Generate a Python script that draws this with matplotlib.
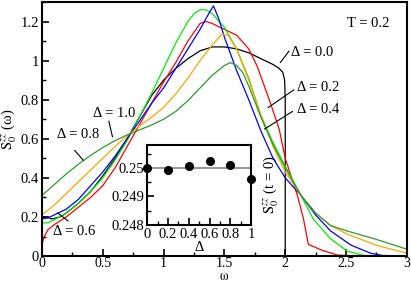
import matplotlib
matplotlib.use("Agg")
import matplotlib.pyplot as plt
from matplotlib.ticker import MultipleLocator, FormatStrFormatter

plt.rcParams['font.family'] = ['Liberation Serif', 'DejaVu Serif']
plt.rcParams['mathtext.fontset'] = 'stix'
plt.rcParams['font.size'] = 10.5

# Spectral function S_0^zz(omega) at T = 0.2 for several anisotropies Delta
w_d00 = [0, 0.04, 0.08, 0.15, 0.2, 0.3, 0.4, 0.5, 0.6, 0.7, 0.8, 0.9, 1.0, 1.1, 1.2, 1.3, 1.4,
         1.5, 1.6, 1.7, 1.8, 1.9, 1.95, 1.98, 1.995, 2.0, 2.0, 3.0]
s_d00 = [0.2, 0.2, 0.19, 0.2, 0.22, 0.27, 0.33, 0.41, 0.5, 0.6, 0.71, 0.82, 0.9, 0.96, 1.01, 1.05, 1.07,
         1.07, 1.06, 1.04, 1.01, 0.98, 0.96, 0.94, 0.9, 0.8, 0.0, 0.0]

w_d02 = [0, 0.02, 0.05, 0.1, 0.2, 0.3, 0.4, 0.5, 0.6, 0.7, 0.8, 0.9, 1.0, 1.1, 1.2, 1.3, 1.35, 1.4,
         1.5, 1.6, 1.7, 1.77, 1.88, 1.95, 2.0, 2.1, 2.15, 2.19, 2.3, 2.43, 2.6, 3.0]
s_d02 = [0.06, 0.1, 0.135, 0.16, 0.2, 0.25, 0.3, 0.36, 0.45, 0.56, 0.67, 0.78, 0.89, 0.99, 1.1, 1.19, 1.2, 1.19,
         1.16, 1.13, 1.06, 0.97, 0.78, 0.65, 0.5, 0.31, 0.19, 0.06, 0.03, 0.005, 0.0, 0.0]

w_d04 = [0, 0.05, 0.1, 0.2, 0.3, 0.4, 0.5, 0.6, 0.7, 0.8, 0.9, 1.0, 1.1, 1.2, 1.25, 1.3, 1.35, 1.4,
         1.5, 1.6, 1.7, 1.8, 1.9, 2.0, 2.13, 2.23, 2.37, 2.51, 2.65, 2.8, 3.0]
s_d04 = [0.17, 0.17, 0.185, 0.22, 0.27, 0.33, 0.4, 0.49, 0.59, 0.71, 0.83, 0.96, 1.09, 1.2, 1.24, 1.26, 1.26, 1.24,
         1.17, 1.06, 0.91, 0.72, 0.58, 0.46, 0.31, 0.19, 0.09, 0.025, 0.003, 0.0, 0.0]

w_d06 = [0, 0.05, 0.1, 0.2, 0.3, 0.4, 0.5, 0.6, 0.7, 0.8, 0.9, 1.0, 1.1, 1.2, 1.3, 1.38, 1.41, 1.45,
         1.5, 1.6, 1.7, 1.8, 1.9, 2.0, 2.13, 2.25, 2.37, 2.54, 2.7, 2.8, 3.0]
s_d06 = [0.19, 0.195, 0.21, 0.24, 0.29, 0.36, 0.43, 0.51, 0.6, 0.69, 0.78, 0.86, 0.96, 1.06, 1.16, 1.25, 1.28, 1.22,
         1.12, 0.95, 0.8, 0.64, 0.5, 0.4, 0.31, 0.21, 0.13, 0.056, 0.015, 0.003, 0.0]

w_d08 = [0, 0.1, 0.2, 0.3, 0.4, 0.5, 0.6, 0.7, 0.8, 0.9, 1.0, 1.1, 1.2, 1.3, 1.4, 1.48, 1.53,
         1.6, 1.7, 1.8, 1.9, 2.0, 2.13, 2.25, 2.37, 2.5, 2.75, 3.0]
s_d08 = [0.21, 0.26, 0.32, 0.38, 0.44, 0.5, 0.56, 0.615, 0.665, 0.71, 0.76, 0.83, 0.91, 1.0, 1.08, 1.135, 1.13,
         1.06, 0.9, 0.72, 0.56, 0.43, 0.31, 0.22, 0.157, 0.115, 0.055, 0.015]

w_d10 = [0, 0.1, 0.2, 0.3, 0.4, 0.5, 0.6, 0.7, 0.8, 0.9, 1.0, 1.1, 1.2, 1.3, 1.4, 1.5, 1.55,
         1.6, 1.65, 1.7, 1.8, 1.9, 2.0, 2.13, 2.25, 2.37, 2.5, 2.75, 3.0]
s_d10 = [0.31, 0.365, 0.42, 0.47, 0.515, 0.555, 0.59, 0.62, 0.645, 0.67, 0.7, 0.74, 0.795, 0.86, 0.925, 0.975, 0.99,
         0.975, 0.94, 0.87, 0.71, 0.57, 0.45, 0.31, 0.22, 0.157, 0.13, 0.085, 0.035]

# inset: equal-time correlation S_0^zz(t=0) vs Delta
delta = [0, 0.2, 0.4, 0.6, 0.8, 1.0]
s_t0 = [0.25, 0.24992, 0.25006, 0.25025, 0.25009, 0.24961]

fig = plt.figure(figsize=(4.11, 2.82), dpi=100)
ax = fig.add_axes([0.102, 0.092, 0.888, 0.901])

ax.plot(w_d00, s_d00, color='black', lw=0.9)
ax.plot(w_d02, s_d02, color='#ff0000', lw=0.9)
ax.plot(w_d04, s_d04, color='#00ee00', lw=0.9)
ax.plot(w_d06, s_d06, color='#0000ff', lw=0.9)
ax.plot(w_d08, s_d08, color='#ffa500', lw=0.9)
ax.plot(w_d10, s_d10, color='#2e9a2e', lw=0.9)

ax.set_xlim(0, 3)
ax.set_ylim(0, 1.3)
ax.xaxis.set_major_locator(MultipleLocator(0.5))
ax.xaxis.set_minor_locator(MultipleLocator(0.25))
ax.yaxis.set_major_locator(MultipleLocator(0.2))
ax.yaxis.set_minor_locator(MultipleLocator(0.1))
ax.xaxis.set_major_formatter(FormatStrFormatter('%g'))
ax.yaxis.set_major_formatter(FormatStrFormatter('%g'))
ax.tick_params(which='both', direction='in', top=False, right=False, pad=2)
ax.tick_params(axis='x', which='both', pad=1, labelsize=10)
ax.tick_params(which='major', length=5, width=1.2)
ax.tick_params(which='minor', length=3, width=1.0)
for sp in ax.spines.values():
    sp.set_linewidth(1.5)

ax.set_xlabel(r'$\mathrm{ω}$', fontsize=10)
ax.xaxis.set_label_coords(0.5, -0.054)
ax.set_ylabel(r'$\mathrm{S}_0^{zz}$ (ω)')
ax.yaxis.set_label_coords(-0.062, 0.5)

ax.text(2.51, 1.19, 'T = 0.2', va='center', ha='left')

# curve labels with pointer lines
labels = ['Δ = 0.0', 'Δ = 0.2', 'Δ = 0.4', 'Δ = 1.0', 'Δ = 0.8', 'Δ = 0.6']
label_pos = [(2.045, 1.04), (2.10, 0.86), (2.10, 0.75), (0.42, 0.73), (0.12, 0.62), (0.09, 0.127)]
pointers = [((2.03, 1.048), (1.96, 0.99)),
            ((2.07, 0.85), (1.86, 0.76)),
            ((2.06, 0.74), (1.83, 0.65)),
            ((0.55, 0.69), (0.58, 0.61)),
            ((0.27, 0.54), (0.34, 0.49)),
            ((0.214, 0.18), (0.13, 0.22))]
for txt, (tx, ty), (p0, p1) in zip(labels, label_pos, pointers):
    ax.text(tx, ty, txt, va='center', ha='left')
    ax.plot([p0[0], p1[0]], [p0[1], p1[1]], color='black', lw=0.8)

# inset
ins = fig.add_axes([0.358, 0.202, 0.253, 0.284])
ins.axhline(0.25, color='#999999', lw=1.5)
ins.plot(delta, s_t0, 'o', color='black', ms=5.5, clip_on=False, zorder=5)
ins.set_xlim(0, 1)
ins.set_ylim(0.248, 0.2508)
ins.xaxis.set_major_locator(MultipleLocator(0.2))
ins.xaxis.set_minor_locator(MultipleLocator(0.1))
ins.yaxis.set_major_locator(MultipleLocator(0.001))
ins.yaxis.set_minor_locator(MultipleLocator(0.0005))
ins.xaxis.set_major_formatter(FormatStrFormatter('%g'))
ins.yaxis.set_major_formatter(FormatStrFormatter('%g'))
ins.tick_params(which='both', direction='in', top=False, right=False, pad=2)
ins.tick_params(which='major', length=5, width=1.2)
ins.tick_params(which='minor', length=3, width=1.0)
for sp in ins.spines.values():
    sp.set_linewidth(1.5)
ins.set_xlabel('Δ', labelpad=0)
ins.set_ylabel(r'$\mathrm{S}_0^{zz}$ (t = 0)')
ins.yaxis.set_label_position('right')
ins.yaxis.set_label_coords(1.1, 0.5)

fig.savefig('out.png', dpi=100)
